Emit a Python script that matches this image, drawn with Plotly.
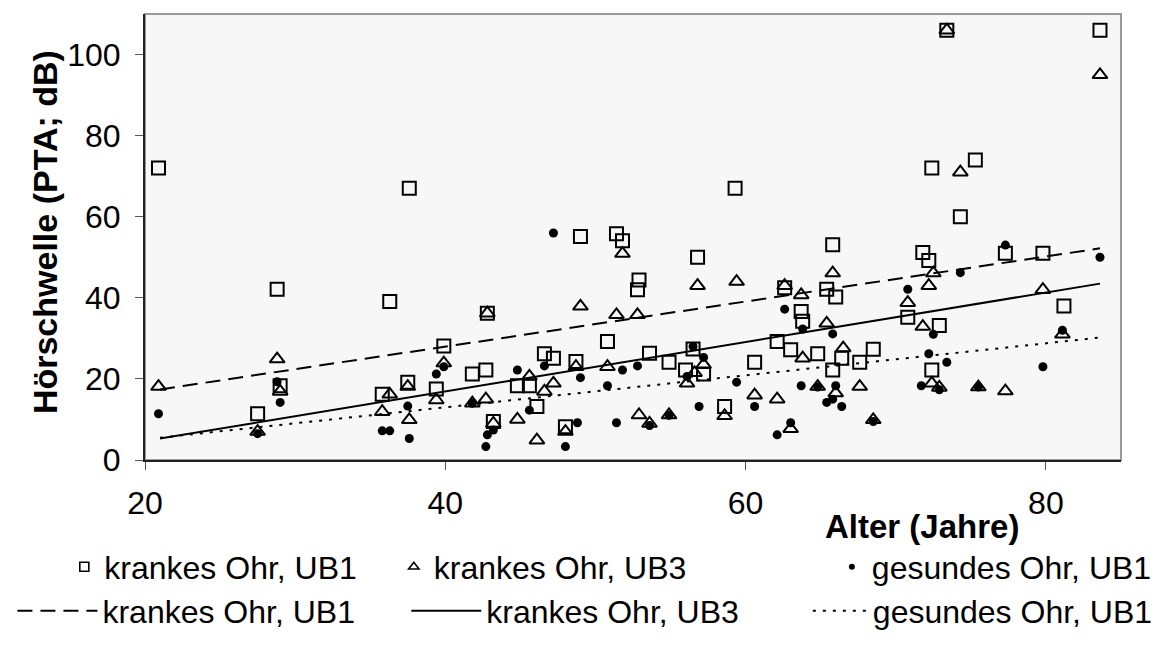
import plotly.graph_objects as go

# ---------------- data ----------------
# krankes Ohr, UB1 (open squares)
sq_x = [20.9, 27.5, 28.8, 29.0, 36.3, 35.8, 37.5, 37.6, 39.9, 39.4, 41.8, 42.7, 42.8, 43.2,
        44.8, 45.6, 46.1, 46.6, 47.2, 48.0, 48.7, 49.0, 50.8, 51.4, 51.8, 52.9, 52.8, 53.6,
        54.9, 56.0, 56.5, 56.8, 57.2, 58.6, 59.3, 60.6, 62.1, 62.6, 63.0, 63.7, 63.8, 64.8,
        65.4, 65.8, 66.0, 65.8, 66.4, 67.6, 68.5, 70.8, 71.8, 72.2, 72.4, 72.9, 72.4, 73.4,
        74.3, 75.3, 77.3, 79.8, 81.2, 83.6]
sq_y = [72, 11.4, 42.1, 18.3, 39.1, 16.2, 19.2, 67, 28.1, 17.5, 21.2, 22.2, 36.2, 9.5,
        18.3, 18.3, 13.2, 26.2, 25.1, 8.2, 24.3, 55.1, 29.2, 55.8, 54.1, 44.4, 42.0, 26.3,
        24.1, 22.2, 27.4, 50.0, 21.2, 13.2, 67, 24.1, 29.2, 42.5, 27.2, 36.6, 34.2, 26.2,
        42.1, 53.1, 40.2, 22.2, 25.1, 24.1, 27.3, 35.2, 51.2, 49.2, 22.2, 33.2, 72, 106,
        60, 74, 51, 51, 38, 106]

# krankes Ohr, UB3 (open triangles)
tri_x = [20.9, 27.5, 28.8, 29.0, 36.3, 35.8, 37.5, 37.6, 39.9, 39.4, 41.8, 42.7, 42.8, 43.2,
         44.8, 45.6, 46.1, 46.6, 47.2, 48.0, 48.7, 49.0, 50.8, 51.4, 51.8, 52.8, 52.9, 53.6,
         54.9, 56.1, 56.6, 56.8, 57.2, 58.6, 59.4, 60.6, 62.1, 62.6, 63.0, 63.7, 63.8, 64.8,
         65.4, 65.8, 66.0, 66.5, 67.6, 68.5, 70.8, 71.8, 72.2, 72.5, 72.4, 72.9, 73.4, 74.3,
         75.5, 77.3, 79.8, 81.1, 83.6]
tri_y = [18.1, 7.0, 24.9, 16.9, 16.2, 11.9, 18.1, 9.9, 23.9, 14.8, 14.0, 15.0, 36.2, 9.0,
         10.0, 20.6, 4.9, 16.9, 18.9, 7.0, 23.0, 37.9, 23.0, 35.8, 50.9, 35.8, 11.1, 9.0,
         11.1, 18.9, 21.5, 43.0, 23.5, 10.9, 44.0, 16.0, 15.0, 43.0, 7.7, 40.7, 25.1, 18.1,
         33.7, 46.1, 16.5, 27.6, 18.1, 9.9, 38.8, 32.9, 43.0, 46.1, 18.9, 17.9, 106, 71,
         18, 17, 42, 31, 95]

# gesundes Ohr, UB1 (filled dots)
dot_x = [20.9, 27.5, 28.8, 29.0, 35.8, 36.3, 37.5, 37.6, 39.9, 39.4, 41.8, 42.8, 43.2, 42.7,
         44.8, 45.6, 46.6, 47.2, 48.0, 49.0, 48.8, 50.8, 51.8, 51.4, 52.8, 53.6, 54.9, 56.5,
         56.1, 56.9, 57.2, 59.4, 60.6, 62.1, 63.0, 62.6, 63.8, 63.7, 64.8, 65.8, 66.0, 65.4,
         65.8, 66.4, 68.5, 70.8, 71.7, 72.9, 72.5, 72.2, 73.4, 74.3, 75.5, 77.3, 79.8, 81.1,
         83.6]
dot_y = [11.4, 6.5, 19.3, 14.2, 7.2, 7.2, 13.3, 5.3, 23.0, 21.2, 14.0, 6.2, 7.4, 3.3,
         22.2, 12.3, 23.2, 56, 3.3, 20.3, 9.2, 18.3, 22.2, 9.2, 23.2, 8.5, 11.0, 28.0,
         20.6, 13.2, 25.3, 19.2, 13.2, 6.2, 9.2, 37.2, 32.3, 18.3, 18.0, 31.1, 18.3, 14.2,
         15.0, 13.2, 9.5, 42.1, 18.3, 17.3, 31.0, 26.2, 24.1, 46.2, 18, 53, 23, 32,
         50]

# regression lines (end points)
fit_x = [21.0, 83.6]
fit_sick_ub1 = [17.4, 52.2]
fit_sick_ub3 = [5.3, 43.5]
fit_healthy_ub1 = [5.5, 30.2]

x_ticks = [20, 40, 60, 80]
y_ticks = [0, 20, 40, 60, 80, 100]

legend_names = ["krankes Ohr, UB1", "krankes Ohr, UB3", "gesundes Ohr, UB1"]

FONT = "Liberation Sans, Arial, sans-serif"

# ---------------- figure ----------------
fig = go.Figure()

sq_marker = dict(symbol="square-open", size=13, color="black", line=dict(width=2, color="black"))
tri_marker = dict(symbol="triangle-up-open", size=13, color="black", line=dict(width=2, color="black"))
dot_marker = dict(symbol="circle", size=9, color="black")

# data traces (legend entries are drawn by the legend-only traces below)
fig.add_trace(go.Scatter(x=sq_x, y=sq_y, mode="markers", name=legend_names[0],
                         marker=sq_marker, showlegend=False))
fig.add_trace(go.Scatter(x=tri_x, y=tri_y, mode="markers", name=legend_names[1],
                         marker=tri_marker, showlegend=False))
fig.add_trace(go.Scatter(x=dot_x, y=dot_y, mode="markers", name=legend_names[2],
                         marker=dot_marker, showlegend=False))
fig.add_trace(go.Scatter(x=fit_x, y=fit_sick_ub1, mode="lines", name=legend_names[0],
                         line=dict(color="black", width=2, dash="15px,8px"),
                         legend="legend4"))
fig.add_trace(go.Scatter(x=fit_x, y=fit_sick_ub3, mode="lines", name=legend_names[1],
                         line=dict(color="black", width=2),
                         legend="legend5"))
fig.add_trace(go.Scatter(x=fit_x, y=fit_healthy_ub1, mode="lines", name=legend_names[2],
                         line=dict(color="black", width=2, dash="3px,7px"),
                         legend="legend6"))

# legend-only entries with the smaller legend symbols
fig.add_trace(go.Scatter(x=[None], y=[None], mode="markers", name=legend_names[0],
                         marker=dict(symbol="square-open", size=9, color="black",
                                     line=dict(width=1.6, color="black")),
                         legend="legend"))
fig.add_trace(go.Scatter(x=[None], y=[None], mode="markers", name=legend_names[1],
                         marker=dict(symbol="triangle-up-open", size=9, color="black",
                                     line=dict(width=1.6, color="black")),
                         legend="legend2"))
fig.add_trace(go.Scatter(x=[None], y=[None], mode="markers", name=legend_names[2],
                         marker=dict(symbol="circle", size=6, color="black"),
                         legend="legend3"))

L, R, T, B = 131, 1147, 14, 460
W, H = R - L, B - T


def px(xp):
    return (xp - L) / W


def py(yp):
    return (B - yp) / H


leg_font = dict(family=FONT, size=32, color="black")


def leg(x_left, y_center, itemwidth=30):
    return dict(x=px(x_left), y=py(y_center), xanchor="left", yanchor="middle",
                orientation="v", font=leg_font, bgcolor="rgba(0,0,0,0)",
                borderwidth=0, itemwidth=itemwidth, tracegroupgap=0)


fig.update_layout(
    width=1170, height=650,
    margin=dict(l=L, r=1170 - R, t=T, b=650 - B),
    paper_bgcolor="white",
    plot_bgcolor="#f7f7f7",
    font=dict(family=FONT, size=32, color="black"),
    showlegend=True,
    legend=leg(47, 567),
    legend2=leg(390, 567),
    legend3=leg(846, 567),
    legend4=leg(-7, 611, 80),
    legend5=leg(403, 611, 70),
    legend6=leg(821, 611, 55),
    xaxis=dict(range=[20, 85], tickvals=x_ticks, ticks="outside", ticklen=8,
               tickcolor="#555", tickwidth=1, showgrid=False, zeroline=False,
               showline=True, linecolor="#222", linewidth=2,
               tickfont=dict(family=FONT, size=32, color="black"),
               ticklabelstandoff=6),
    yaxis=dict(range=[0, 110], tickvals=y_ticks, ticks="outside", ticklen=8,
               tickcolor="#555", tickwidth=1, showgrid=False, zeroline=False,
               showline=True, linecolor="#222", linewidth=2,
               tickfont=dict(family=FONT, size=32, color="black"),
               ticklabelstandoff=8),
    shapes=[dict(type="rect", xref="paper", yref="paper", x0=0, x1=1, y0=0, y1=1,
                 line=dict(color="#999", width=2), layer="below")],
    annotations=[
        dict(text="<b>Alter (Jahre)</b>", xref="paper", yref="paper",
             x=px(837), y=py(526), xanchor="left", yanchor="middle", showarrow=False,
             font=dict(family=FONT, size=33, color="black")),
        dict(text="<b>Hörschwelle (PTA; dB)</b>", xref="paper", yref="paper",
             x=px(27), y=py(232), xanchor="center", yanchor="middle", showarrow=False,
             textangle=-90, font=dict(family=FONT, size=34, color="black")),
    ],
)

fig.write_html("out.html")
